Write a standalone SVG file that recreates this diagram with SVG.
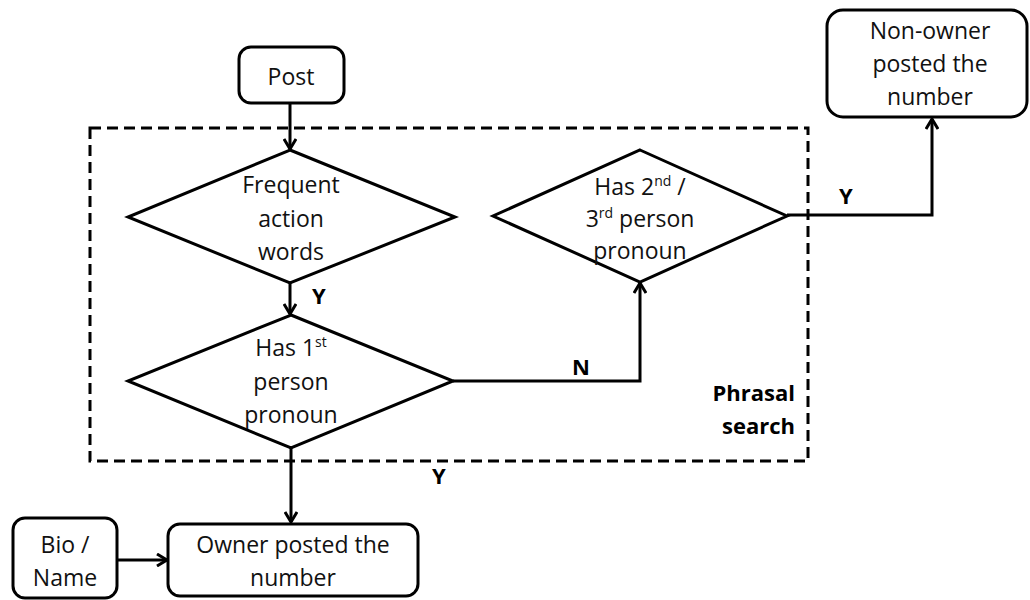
<svg xmlns="http://www.w3.org/2000/svg" width="1030" height="600" viewBox="0 0 1030 600">
<style>
.box{fill:#fff;stroke:#000;stroke-width:3}
.dia{fill:#fff;stroke:#000;stroke-width:3;stroke-linejoin:miter}
.t{font-family:"Open Sans","Liberation Sans",sans-serif;font-size:23px;fill:#111;text-anchor:middle}
.sup{font-size:14px}
.lb{font-family:"Open Sans","Liberation Sans",sans-serif;font-size:22px;font-weight:bold;fill:#000}
.c{fill:none;stroke:#000;stroke-width:3}
</style>
<defs>
<marker id="ah" markerWidth="14" markerHeight="14" refX="12" refY="7" orient="auto" markerUnits="userSpaceOnUse">
<path d="M2,1 L12,7 L2,13" fill="none" stroke="#000" stroke-width="3"/>
</marker>
</defs>
<rect id="phrasal" x="90" y="128" width="718" height="333" fill="none" stroke="#000" stroke-width="3" stroke-dasharray="11,6"/>
<g id="connectors">
<path class="c" d="M290,103 V149" marker-end="url(#ah)"/>
<path class="c" d="M290,283 V314" marker-end="url(#ah)"/>
<path class="c" d="M453,381 H640 V283" marker-end="url(#ah)"/>
<path class="c" d="M787,215 H932 V119" marker-end="url(#ah)"/>
<path class="c" d="M291,448 V522" marker-end="url(#ah)"/>
<path class="c" d="M117,560 H167" marker-end="url(#ah)"/>
</g>
<g id="post"><rect class="box" x="239" y="47" width="105" height="56" rx="12"/><text class="t" x="291" y="85">Post</text></g>
<g id="frequent"><polygon class="dia" points="290,150 455,217 290,283 128,217"/>
<text class="t" x="291" y="193">Frequent</text><text class="t" x="291" y="227">action</text><text class="t" x="291" y="260">words</text></g>
<g id="first"><polygon class="dia" points="291,315 453,381 291,448 128,381"/>
<text class="t" x="291" y="356">Has 1<tspan class="sup" dy="-9">st</tspan></text><text class="t" x="291" y="390">person</text><text class="t" x="291" y="423">pronoun</text></g>
<g id="second"><polygon class="dia" points="640,150 787,216 640,282 493,216"/>
<text class="t" x="640" y="195">Has 2<tspan class="sup" dy="-9">nd</tspan><tspan dy="9"> /</tspan></text><text class="t" x="640" y="227">3<tspan class="sup" dy="-9">rd</tspan><tspan dy="9"> person</tspan></text><text class="t" x="640" y="259">pronoun</text></g>
<g id="nonowner"><rect class="box" x="827" y="10" width="200" height="107" rx="16"/>
<text class="t" x="930" y="39">Non-owner</text><text class="t" x="930" y="72">posted the</text><text class="t" x="930" y="105">number</text></g>
<g id="owner"><rect class="box" x="168" y="524" width="250" height="72" rx="12"/>
<text class="t" x="293" y="553">Owner posted the</text><text class="t" x="293" y="586">number</text></g>
<g id="bio"><rect class="box" x="13" y="518" width="104" height="80" rx="12"/>
<text class="t" x="65" y="553">Bio /</text><text class="t" x="65" y="586">Name</text></g>
<g id="labels">
<text class="lb" x="312" y="304">Y</text>
<text class="lb" x="572" y="375">N</text>
<text class="lb" x="839" y="204">Y</text>
<text class="lb" x="432" y="484">Y</text>
<text class="lb" x="795" y="401" text-anchor="end">Phrasal</text>
<text class="lb" x="795" y="434" text-anchor="end">search</text>
</g>
</svg>
